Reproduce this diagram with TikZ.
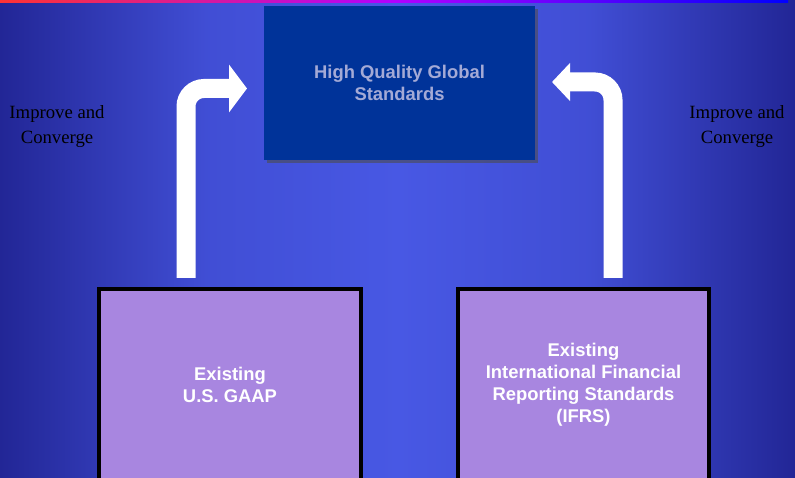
\documentclass[tikz,border=0pt]{standalone}
\usepackage{fontspec}
\setmainfont{Liberation Serif}
\setsansfont{Liberation Sans}
\usetikzlibrary{arrows.meta, positioning, shadows}

\definecolor{bgedge}{RGB}{34,38,150}
\definecolor{bgmid}{RGB}{72,88,228}
\definecolor{goalfill}{RGB}{0,51,153}
\definecolor{goaltext}{RGB}{164,170,214}
\definecolor{basefill}{RGB}{168,134,224}

\pgfdeclarehorizontalshading{slideback}{100bp}{color(0bp)=(bgedge); color(25bp)=(bgedge);
    color(38bp)=(bgmid!80!bgedge); color(50bp)=(bgmid); color(62bp)=(bgmid!80!bgedge);
    color(75bp)=(bgedge); color(100bp)=(bgedge)}

\tikzset{
    goalbox/.style={fill=goalfill, text=goaltext, minimum width=271pt, minimum height=154pt,
        align=center, font=\sffamily\bfseries\fontsize{18.4}{22}\selectfont,
        drop shadow={shadow xshift=3pt, shadow yshift=-3pt, fill=black!70, opacity=0.6}},
    basebox/.style={fill=basefill, draw=black, line width=4pt, text=white, minimum height=192pt,
        align=center, font=\sffamily\bfseries\fontsize{18.4}{22}\selectfont},
    sidetext/.style={text=black, align=center, font=\fontsize{18.7}{25}\selectfont},
    bigarrow/.style={draw=white, line width=19pt, rounded corners=18pt,
        -{Triangle[length=18pt, width=#1]}}
}

\begin{document}
\begin{tikzpicture}[x=1pt, y=-1pt]
        \useasboundingbox (0,0) rectangle (795,478);
        % background and top stripe
        \shade [shading=slideback] (0,0) rectangle (795,478);
        \shade [left color=red!80!white, right color=blue, middle color=magenta!70!blue] (0,0) rectangle (788,3);

        \node (goal) [goalbox] at (399.5,83) {High Quality Global\\Standards};
        \node (gaap) [basebox, minimum width=262pt] at (230,385) {Existing\\U.S. GAAP};
        \node (ifrs) [basebox, minimum width=251pt] at (583.5,385)
            {Existing\\International Financial\\Reporting Standards\\(IFRS)};

        \node (lefttext) [sidetext] at (57,127) {Improve and\\Converge};
        \node (righttext) [sidetext] at (737,127) {Improve and\\Converge};

        \coordinate (lfoot) at (186,278);
        \coordinate (ltip) at (247,88.5);
        \coordinate (rfoot) at (613,278);
        \coordinate (rtip) at (552,82);

        \draw [bigarrow=47pt] (lfoot) |- (ltip);
        \draw [bigarrow=37pt] (rfoot) |- (rtip);
    \end{tikzpicture}
\end{document}
